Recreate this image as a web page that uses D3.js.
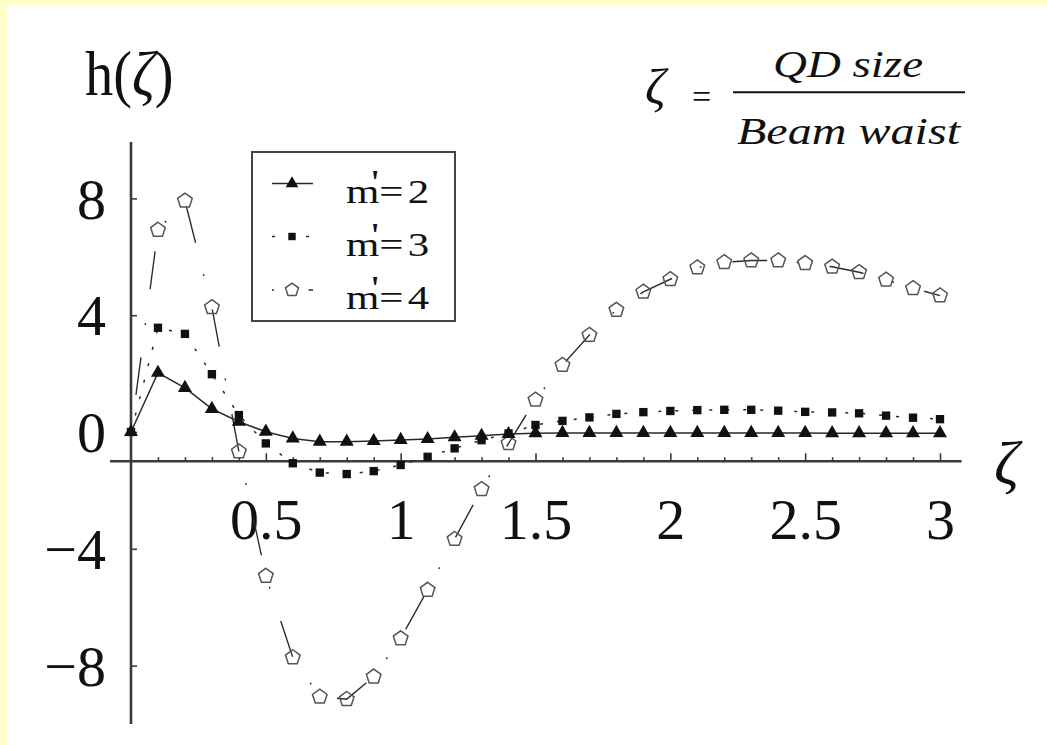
<!DOCTYPE html>
<html>
<head>
<meta charset="utf-8">
<script src="https://cdn.jsdelivr.net/npm/d3@7"></script>
<style>
  html, body { margin: 0; padding: 0; background: #fff; }
  svg { display: block; }
  text { font-family: "Liberation Serif", "Times New Roman", serif; fill: #111; }
</style>
</head>
<body>
<svg id="chart" width="1047" height="745"></svg>
<script>
// Sample points along ζ = QD size / beam waist
const zeta = [0, 0.1, 0.2, 0.3, 0.4, 0.5, 0.6, 0.7, 0.8, 0.9, 1.0,
              1.1, 1.2, 1.3, 1.4, 1.5, 1.6, 1.7, 1.8, 1.9, 2.0,
              2.1, 2.2, 2.3, 2.4, 2.5, 2.6, 2.7, 2.8, 2.9, 3.0];

// h(ζ) for m' = 2
const hM2 = [0, 2.03, 1.51, 0.79, 0.35, 0.01, -0.22, -0.33, -0.33, -0.31, -0.27,
             -0.24, -0.18, -0.13, -0.07, -0.04, -0.03, -0.03, -0.03, -0.03, -0.03,
             -0.03, -0.03, -0.03, -0.03, -0.03, -0.04, -0.04, -0.04, -0.04, -0.04];

// h(ζ) for m' = 3
const hM3 = [0, 3.57, 3.36, 1.98, 0.58, -0.39, -1.07, -1.39, -1.44, -1.34, -1.13,
             -0.85, -0.56, -0.28, -0.05, 0.24, 0.38, 0.50, 0.62, 0.68, 0.72,
             0.75, 0.76, 0.76, 0.73, 0.69, 0.67, 0.64, 0.56, 0.49, 0.44];

// h(ζ) for m' = 4
const hM4 = [0, 6.92, 7.92, 4.27, -0.67, -4.93, -7.72, -9.07, -9.15, -8.38, -7.07,
             -5.41, -3.67, -1.96, -0.39, 1.10, 2.29, 3.32, 4.18, 4.80, 5.23,
             5.63, 5.81, 5.87, 5.87, 5.78, 5.66, 5.47, 5.21, 4.92, 4.67];

const seriesNames = ["2", "3", "4"];

const xTickValues = [0.5, 1, 1.5, 2, 2.5, 3];
const xTickLabels = ["0.5", "1", "1.5", "2", "2.5", "3"];
const xMinorTicks = [0.1, 0.2, 0.3, 0.4, 0.6, 0.7, 0.8, 0.9, 1.1, 1.2, 1.3, 1.4,
                     1.6, 1.7, 1.8, 1.9, 2.1, 2.2, 2.3, 2.4, 2.6, 2.7, 2.8, 2.9];
const yTickValues = [-8, -4, 0, 4, 8];
const yTickLabels = ["\u22128", "\u22124", "0", "4", "8"];

const svg = d3.select("#chart");
const W = 1047, H = 745;

// page background with pale yellow frame on the top and left
svg.append("rect").attr("width", W).attr("height", H).attr("fill", "#fff");
svg.append("rect").attr("width", W).attr("height", 5).attr("fill", "#ffffcc");
svg.append("rect").attr("width", 7).attr("height", H).attr("fill", "#ffffcc");

const x = d3.scaleLinear().domain([0, 3]).range([131, 940]);
const y = d3.scaleLinear().domain([-10, 10]).range([724, 140]);

const axisColor = "#3a3a3a";
const xAxisAt = -1;           // the horizontal axis crosses the vertical one at h = -1
const xAxisSpan = [-0.078, 3.08];
const yAxisSpan = [-10, 9.93];

// ---- horizontal axis ----
const gx = svg.append("g").attr("transform", `translate(0,${y(xAxisAt)})`);
gx.append("line")
  .attr("x1", x(xAxisSpan[0])).attr("x2", x(xAxisSpan[1]))
  .attr("stroke", axisColor).attr("stroke-width", 2.6);

const gxMinor = gx.append("g").call(
  d3.axisBottom(x).tickValues(xMinorTicks).tickSize(-4).tickSizeOuter(0).tickFormat(""));
const gxMajor = gx.append("g").call(
  d3.axisBottom(x).tickValues(xTickValues).tickSize(-8).tickSizeOuter(0)
    .tickFormat((d, i) => xTickLabels[i]));
[gxMinor, gxMajor].forEach(g => {
  g.select(".domain").remove();
  g.selectAll(".tick line").attr("stroke", axisColor).attr("stroke-width", 1.6);
});
gxMajor.selectAll(".tick text")
  .attr("y", 78).attr("dy", 0)
  .attr("font-size", 58)
  .attr("font-family", "Liberation Serif, serif")
  .attr("fill", "#111");

// ---- vertical axis ----
const gy = svg.append("g").attr("transform", `translate(${x(0)},0)`);
gy.append("line")
  .attr("y1", y(yAxisSpan[0])).attr("y2", y(yAxisSpan[1]))
  .attr("stroke", axisColor).attr("stroke-width", 2.6);
const gyTicks = gy.append("g").call(
  d3.axisLeft(y).tickValues(yTickValues).tickSize(-6).tickSizeOuter(0).tickPadding(25)
    .tickFormat((d, i) => yTickLabels[i]));
gyTicks.select(".domain").remove();
gyTicks.selectAll(".tick line").attr("stroke", axisColor).attr("stroke-width", 1.6);
gyTicks.selectAll(".tick text")
  .attr("font-size", 58)
  .attr("dy", "0.34em")
  .attr("font-family", "Liberation Serif, serif")
  .attr("fill", "#111");

// ---- curves ----
const mk = vals => zeta.map((z, i) => ({ x: z, y: vals[i] }));
// the dash pattern is laid out in a frame squeezed horizontally by dashSx
const dashSx = 0.91;
const series = [
  { name: seriesNames[0], data: mk(hM2), dash: null,                 offset: 0,  sx: 1 },
  { name: seriesNames[1], data: mk(hM3), dash: "3 14",               offset: 0,  sx: 1 },
  { name: seriesNames[2], data: mk(hM4), dash: "2 34.5 38 32.5",     offset: -1, sx: dashSx }
];

const lineColor = "#2a2a2a";

// draw the m'=4 curve first, then m'=3, then m'=2 on top
[2, 1, 0].forEach(k => {
  const s = series[k];
  const ln = d3.line().x(d => x(d.x) / s.sx).y(d => y(d.y));
  svg.append("g").attr("transform", `scale(${s.sx},1)`)
    .append("path")
    .datum(s.data)
    .attr("d", ln)
    .attr("fill", "none")
    .attr("stroke", lineColor)
    .attr("stroke-width", 1.5)
    .attr("stroke-dasharray", s.dash)
    .attr("stroke-dashoffset", s.offset);
});

// pentagon marker, apex up
const symbolPentagon = {
  draw(ctx, size) {
    const r = Math.sqrt(size / 2.378);
    for (let i = 0; i < 5; i++) {
      const a = -Math.PI / 2 + i * 2 * Math.PI / 5;
      const px = r * Math.cos(a), py = r * Math.sin(a);
      if (i === 0) ctx.moveTo(px, py); else ctx.lineTo(px, py);
    }
    ctx.closePath();
  }
};

const markerStyles = [
  { sym: d3.symbol(d3.symbolTriangle, 85), fill: "#111", stroke: "none", sw: 0 },
  { sym: d3.symbol(d3.symbolSquare, 70),   fill: "#111", stroke: "none", sw: 0 },
  { sym: d3.symbol(symbolPentagon, 140),   fill: "none", stroke: "#555", sw: 1.5 }
];

[2, 1, 0].forEach(k => {
  const s = series[k], st = markerStyles[k];
  const pts = k === 2 ? s.data.filter(d => d.x > 0) : s.data;
  svg.append("g").selectAll("path")
    .data(pts)
    .join("path")
    .attr("transform", d => `translate(${x(d.x)},${y(d.y)})`)
    .attr("d", st.sym)
    .attr("fill", st.fill)
    .attr("stroke", st.stroke)
    .attr("stroke-width", st.sw);
});

// ---- legend ----
const lg = svg.append("g");
lg.append("rect")
  .attr("x", 252).attr("y", 152).attr("width", 203).attr("height", 169)
  .attr("fill", "#fff").attr("stroke", "#444").attr("stroke-width", 2);

const rowY = [183.5, 236.5, 290];
const legendDash = [null, "3 14", "2 34.5 38 32.5"];
series.forEach((s, k) => {
  const cy = rowY[k];
  lg.append("line")
    .attr("x1", 272).attr("x2", 313).attr("y1", cy).attr("y2", cy)
    .attr("stroke", lineColor).attr("stroke-width", 1.5)
    .attr("stroke-dasharray", legendDash[k]);
  const st = markerStyles[k];
  lg.append("path")
    .attr("transform", `translate(292,${cy})`)
    .attr("d", k === 2 ? d3.symbol(symbolPentagon, 110)()
               : k === 0 ? d3.symbol(d3.symbolTriangle, 70)()
               : d3.symbol(d3.symbolSquare, 55)())
    .attr("fill", st.fill).attr("stroke", st.stroke).attr("stroke-width", st.sw);

  // "m'=n" with the prime raised over the gap between m and =
  lg.append("text")
    .attr("transform", `translate(346,${cy + 19}) scale(1.3,1)`)
    .attr("font-size", 33)
    .attr("x", "0 19.5 25.5 47.5")
    .attr("dy", "0 -10 10 0")
    .attr("stroke", "#111").attr("stroke-width", 0)
    .text("m'=" + s.name);
});

// ---- axis titles ----
const hLabel = svg.append("text")
  .attr("transform", "translate(85,95) scale(0.88,1)")
  .attr("font-size", 64);
hLabel.append("tspan").text("h(");
hLabel.append("tspan").attr("font-style", "italic").text("ζ");
hLabel.append("tspan").text(")");

svg.append("text")
  .attr("x", 994).attr("y", 484)
  .attr("font-size", 62).attr("font-style", "italic")
  .text("ζ");

// ---- definition of ζ ----
svg.append("text")
  .attr("x", 645).attr("y", 104)
  .attr("font-size", 51).attr("font-style", "italic")
  .text("ζ");
svg.append("text")
  .attr("x", 692).attr("y", 108)
  .attr("font-size", 34)
  .attr("font-family", "Liberation Sans, Arial, sans-serif")
  .text("=");
svg.append("line")
  .attr("x1", 733).attr("x2", 965).attr("y1", 92.3).attr("y2", 92.3)
  .attr("stroke", "#111").attr("stroke-width", 2);
svg.append("text")
  .attr("x", 773).attr("y", 77)
  .attr("font-size", 37).attr("font-style", "italic")
  .attr("textLength", 150).attr("lengthAdjust", "spacingAndGlyphs")
  .text("QD size");
svg.append("text")
  .attr("x", 737).attr("y", 144)
  .attr("font-size", 37).attr("font-style", "italic")
  .attr("textLength", 223).attr("lengthAdjust", "spacingAndGlyphs")
  .text("Beam waist");
</script>
</body>
</html>
